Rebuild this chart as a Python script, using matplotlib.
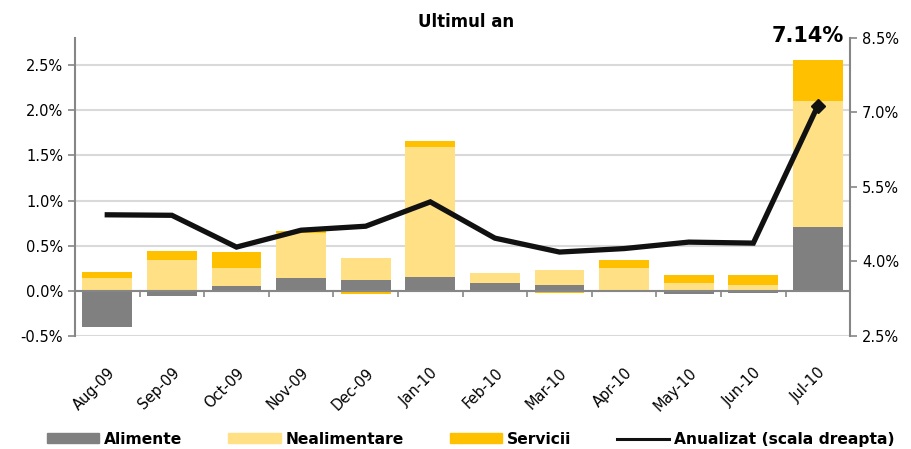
import matplotlib
matplotlib.use('Agg')
import matplotlib.pyplot as plt
from matplotlib.patches import Patch
from matplotlib.lines import Line2D
from matplotlib.ticker import FuncFormatter
import numpy as np

plt.rcParams['font.family'] = ['DejaVu Sans']

months = ['Aug-09', 'Sep-09', 'Oct-09', 'Nov-09', 'Dec-09', 'Jan-10',
          'Feb-10', 'Mar-10', 'Apr-10', 'May-10', 'Jun-10', 'Jul-10']
alimente = [-0.40, -0.055, 0.055, 0.147, 0.12, 0.158, 0.085, 0.06, 0.005, -0.035, -0.025, 0.71]
nealimentare = [0.147, 0.346, 0.203, 0.498, 0.245, 1.44, 0.11, 0.17, 0.253, 0.092, 0.07, 1.39]
servicii = [0.06, 0.095, 0.17, 0.022, -0.03, 0.06, 0.0, -0.02, 0.085, 0.08, 0.10, 0.455]
anualizat = [4.94, 4.93, 4.29, 4.63, 4.71, 5.20, 4.47, 4.19, 4.26, 4.39, 4.37, 7.14]

c_alim = '#808080'
c_neal = '#FFE084'
c_serv = '#FFC000'
c_axis = '#868686'

fig = plt.figure(figsize=(9.11, 4.49), dpi=100)
ax = fig.add_axes([0.0823, 0.2517, 0.851, 0.6637])
ax2 = ax.twinx()

x = np.arange(len(months))
pos = np.zeros(len(months))
neg = np.zeros(len(months))
for vals, col in [(alimente, c_alim), (nealimentare, c_neal), (servicii, c_serv)]:
    v = np.array(vals)
    bottom = np.where(v >= 0, pos, neg)
    ax.bar(x, v, 0.77, bottom=bottom, color=col, zorder=2)
    pos = pos + np.where(v >= 0, v, 0)
    neg = neg + np.where(v < 0, v, 0)

ylo, yhi = -0.5, 2.8
ax.set_ylim(ylo, yhi)
ax.set_xlim(-0.5, 11.5)
ax.set_yticks([-0.5, 0, 0.5, 1.0, 1.5, 2.0, 2.5])
ax.yaxis.set_major_formatter(FuncFormatter(lambda v, p: f'{v:.1f}%'))
ax.grid(axis='y', color='#d9d9d9', linewidth=1.5, zorder=0)
ax.axhline(0, color=c_axis, linewidth=1.5, zorder=3)

ax.set_xticks(x)
ax.set_xticklabels(months, rotation=45, ha='right', rotation_mode='anchor', fontsize=10.5)
ax.tick_params(axis='x', length=0, pad=21)
ax.tick_params(axis='y', length=5, color=c_axis, labelsize=10.5, width=1.2)

for s in ['top', 'bottom', 'right']:
    ax.spines[s].set_visible(False)
ax.spines['left'].set_color(c_axis)
ax.spines['left'].set_linewidth(1.5)

# category separators on the zero line
sec = ax.secondary_xaxis((0 - ylo) / (yhi - ylo))
sec.set_xticks(np.arange(-0.5, 12, 1.0))
sec.set_xticklabels([])
sec.tick_params(length=4, color=c_axis, width=1.2)
sec.spines['bottom'].set_visible(False)

ax2.plot(x, anualizat, color='#111111', linewidth=3.8, solid_joinstyle='miter', zorder=4)
ax2.plot(x[-1], anualizat[-1], marker='D', color='#111111', markersize=7)
ax2.set_ylim(2.5, 8.5)
ax2.set_yticks([2.5, 4.0, 5.5, 7.0, 8.5])
ax2.yaxis.set_major_formatter(FuncFormatter(lambda v, p: f'{v:.1f}%'))
ax2.tick_params(axis='y', length=5, color=c_axis, labelsize=10.5, width=1.2)
for s in ['top', 'bottom', 'left']:
    ax2.spines[s].set_visible(False)
ax2.spines['right'].set_color(c_axis)
ax2.spines['right'].set_linewidth(1.5)

ax2.text(x[-1] + 0.4, 8.33, f'{anualizat[-1]:.2f}%', ha='right', va='bottom',
         fontsize=15, fontweight='bold')
ax.set_title('Ultimul an', fontsize=12, fontweight='bold', pad=8, x=0.505)

handles = [Patch(color=c_alim), Patch(color=c_neal), Patch(color=c_serv),
           Line2D([0], [0], color='#111111', linewidth=2.2)]
labels = ['Alimente', 'Nealimentare', 'Servicii', 'Anualizat (scala dreapta)']
fig.legend(handles, labels, loc='center', bbox_to_anchor=(0.517, 0.022), ncol=4,
           frameon=False, handlelength=3.35, handleheight=0.55, handletextpad=0.32,
           columnspacing=2.95, prop={'weight': 'bold', 'size': 11.2})

fig.savefig('out.png', dpi=100)
